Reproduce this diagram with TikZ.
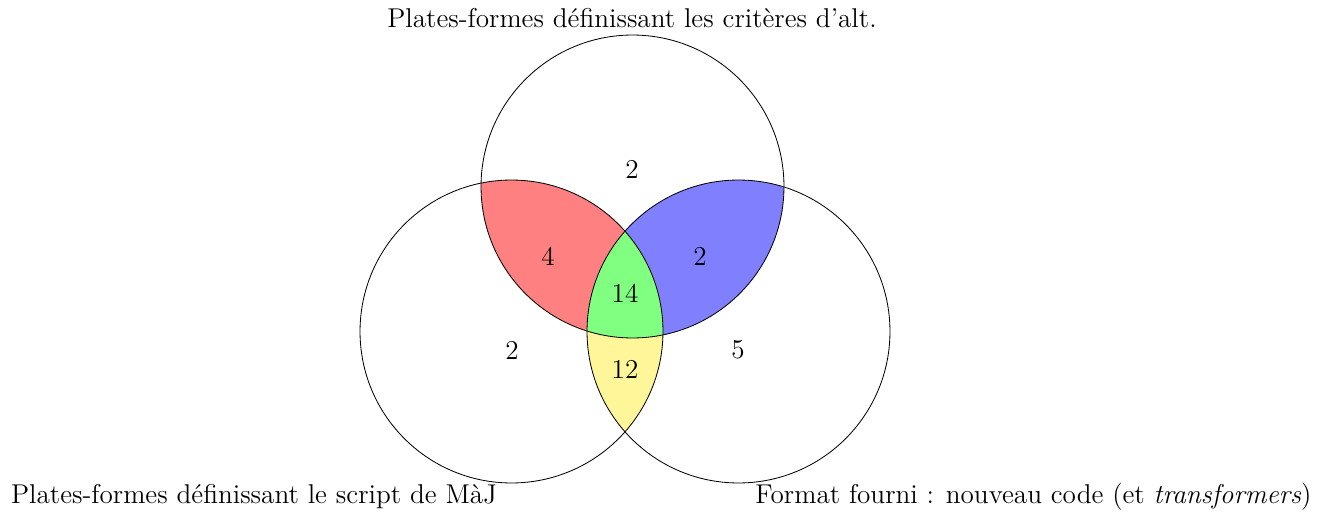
\documentclass[tikz,border=0pt]{standalone}
\definecolor{vyellow}{RGB}{255,246,153}
\begin{document}
\begin{tikzpicture}[x=0.0148cm,y=-0.0148cm,
  font=\fontsize{11.45}{13.7}\selectfont,
  lbl/.style={inner sep=0pt},
  setc/.style={draw=black, line width=0.35pt}]
\useasboundingbox (0,0) rectangle (1326,515);
\def\R{2.242cm}
\coordinate (ct) at (632.5,186.5);
\coordinate (cl) at (511.5,331.5);
\coordinate (cr) at (738.5,331.5);
% red: top & left
\begin{scope}
  \clip (ct) circle[radius=\R];
  \fill[red!50] (cl) circle[radius=\R];
\end{scope}
% blue: top & right
\begin{scope}
  \clip (ct) circle[radius=\R];
  \fill[blue!50] (cr) circle[radius=\R];
\end{scope}
% yellow: left & right
\begin{scope}
  \clip (cl) circle[radius=\R];
  \fill[vyellow] (cr) circle[radius=\R];
\end{scope}
% green: all three
\begin{scope}
  \clip (ct) circle[radius=\R];
  \clip (cl) circle[radius=\R];
  \fill[green!50] (cr) circle[radius=\R];
\end{scope}
\draw[setc] (ct) circle[radius=\R];
\draw[setc] (cl) circle[radius=\R];
\draw[setc] (cr) circle[radius=\R];
% labels
\node[lbl] (tA) at (632,18) {Plates-formes définissant les critères d'alt.};
\node[lbl] (tB) at (254,497) {Plates-formes définissant le script de MàJ};
\node[lbl] (tC) at (1033.5,497) {Format fourni : nouveau code (et \emph{transformers})};
\node[lbl] (nT) at (632,169) {2};
\node[lbl] (nTL) at (548,256) {4};
\node[lbl] (nTR) at (700,256) {2};
\node[lbl] (nAll) at (625,293) {14};
\node[lbl] (nL) at (512,350) {2};
\node[lbl] (nR) at (738,350) {5};
\node[lbl] (nLR) at (625,369) {12};
\end{tikzpicture}
\end{document}
